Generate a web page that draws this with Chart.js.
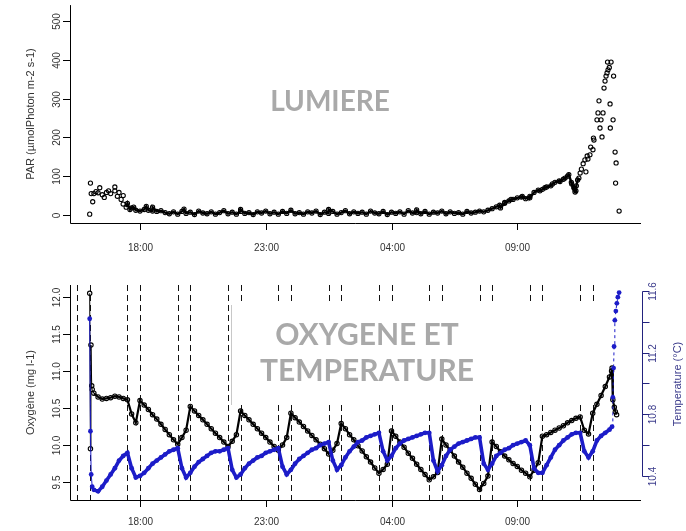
<!DOCTYPE html>
<html>
<head>
<meta charset="utf-8">
<script src="https://cdn.jsdelivr.net/npm/chart.js@4.4.1/dist/chart.umd.min.js"></script>
<style>
  html, body { margin: 0; padding: 0; background: #fff; }
  #wrap { position: relative; width: 686px; height: 531px; }
  canvas { position: absolute; left: 0; }
</style>
</head>
<body>
<div id="wrap">
  <canvas id="lumiere" width="686" height="265" style="top:0px"></canvas>
  <canvas id="oxygene" width="686" height="266" style="top:265px"></canvas>
</div>
<script>
'use strict';

// time grid: one reading every 10 min from 16:00, hours counted from midnight of day 1
const startHour = 16;
const stepHours = 1 / 6;

const timeTicks = [18, 23, 28, 33];
const timeLabels = ['18:00', '23:00', '04:00', '09:00'];
const parTicks = [0, 100, 200, 300, 400, 500];
const o2Ticks = [9.5, 10, 10.5, 11, 11.5, 12];
const o2Labels = ['9.5', '10.0', '10.5', '11.0', '11.5', '12.0'];
const tempTicks = [10.4, 10.6, 10.8, 11.0, 11.2, 11.4, 11.6];
const tempLabels = ['10.4', '', '10.8', '', '11.2', '', '11.6'];

// vertical dashed lines (half hour before / on each even hour)
const markLines = [15.5, 16, 17.5, 18, 19.5, 20, 21.5, 22, 23.5, 24, 25.5, 26,
                   27.5, 28, 29.5, 30, 31.5, 32, 33.5, 34, 35.5, 36];

// PAR (µmol photon m-2 s-1), 16:00 -> 11:20
const parGrid = [
  2, 55, 57, 52, 58, 55, 62, 58, 50, 30,
  18, 12, 10, 14, 12, 10, 9, 11, 6, 3,
  8, 2, 9, 4, 7, 1, 10, 5, 3, 8,
  2, 6, 11, 3, 7, 2, 9, 4, 6, 1,
  8, 5, 10, 3, 7, 2, 9, 4, 12, 3,
  6, 2, 8, 5, 10, 1, 7, 4, 9, 2,
  6, 11, 3, 8, 4, 7, 2, 10, 5, 3,
  9, 1, 7, 4, 8, 2, 11, 5, 6, 3,
  9, 2, 7, 5, 10, 3, 8, 4, 6, 2,
  9, 5, 7, 10, 8, 12, 16, 21, 18, 30,
  36, 40, 44, 46, 42, 48, 58, 64, 66, 72,
  75, 84, 88, 92, 100, 80, 62
];
// extra scattered PAR readings
const parExtraTimes = [
  16.03, 16.06, 16.12, 16.25, 16.4, 16.58, 16.75, 17.0, 17.1, 17.25,
  17.33, 17.45, 17.6, 17.75, 18.25, 18.5, 19.75, 22.0, 25.5, 29.0,
  32.3, 32.5, 32.75, 33.2, 33.5, 33.9, 34.1, 34.4, 34.7, 34.9,
  35.05, 35.15, 35.25, 35.3, 35.35, 35.4, 35.45, 35.5, 35.55, 35.62,
  35.69, 35.73, 35.78, 35.81, 35.89, 35.92, 36.01, 36.03, 36.05, 36.17,
  36.21, 36.25, 36.29, 36.33, 36.37, 36.41, 36.45, 36.49, 36.53, 36.57,
  36.59, 36.61, 36.66, 36.73, 36.69, 36.7, 36.81, 36.83, 36.89, 36.93,
  36.91, 37.05
];
const parExtraValues = [
  82, 55, 34, 60, 70, 45, 62, 72, 48, 40,
  28, 20, 14, 20, 22, 20, 15, 14, 14, 13,
  25, 32, 40, 48, 44, 62, 70, 80, 86, 95,
  104, 84, 70, 59, 75, 90, 95, 108, 118, 132,
  142, 111, 152, 144, 155, 175, 168, 198, 193, 245,
  263, 294, 224, 245, 201, 263, 327, 345, 358, 366,
  394, 374, 380, 394, 286, 224, 245, 358, 162, 134,
  82, 10
];

// Oxygen (mg l-1), 16:00 -> 12:40
const o2Grid = [
  12.05, 10.7, 10.65, 10.62, 10.63, 10.64, 10.66, 10.65, 10.63, 10.61,
  10.42, 10.3, 10.6, 10.54, 10.48, 10.41, 10.35, 10.28, 10.21, 10.14,
  10.07, 10.01, 10.1, 10.2, 10.52, 10.46, 10.4, 10.34, 10.28, 10.22,
  10.16, 10.1, 10.04, 9.98, 10.05, 10.14, 10.46, 10.4, 10.34, 10.28,
  10.22, 10.16, 10.1, 10.04, 9.98, 9.93, 10.0, 10.1, 10.43, 10.37,
  10.31, 10.25, 10.19, 10.13, 10.07, 10.01, 9.95, 9.88, 9.93, 10.02,
  10.29, 10.22, 10.14, 10.07, 9.99, 9.92, 9.84, 9.77, 9.69, 9.62,
  9.67, 9.74, 10.19, 10.12, 10.04, 9.97, 9.89, 9.82, 9.74, 9.67,
  9.6, 9.53, 9.57, 9.63, 10.08, 10.0, 9.93, 9.85, 9.77, 9.7,
  9.62, 9.55, 9.47, 9.4, 9.48, 9.58, 10.04, 9.98, 9.91, 9.85,
  9.8, 9.75, 9.71, 9.66, 9.62, 9.57, 9.66, 9.76, 10.12, 10.14,
  10.17, 10.2, 10.23, 10.26, 10.3, 10.33, 10.36, 10.38, 10.2, 10.15,
  10.43, 10.55, 10.67, 10.79, 10.92
];
const o2ExtraTimes = [16.03, 16.05, 16.08, 16.1, 36.75, 36.77, 36.8, 36.86, 36.9, 36.95];
const o2ExtraValues = [9.95, 11.35, 10.8, 10.75, 11.0, 11.04, 10.61, 10.51, 10.45, 10.41];

// Temperature (°C), 16:00 -> 12:40
const tempGrid = [
  11.42, 10.31, 10.3, 10.33, 10.37, 10.41, 10.45, 10.5, 10.53, 10.55,
  10.45, 10.39, 10.4, 10.42, 10.45, 10.48, 10.5, 10.52, 10.54, 10.56,
  10.57, 10.58, 10.45, 10.39, 10.42, 10.46, 10.49, 10.51, 10.53, 10.55,
  10.56, 10.56, 10.57, 10.58, 10.44, 10.39, 10.41, 10.45, 10.48, 10.5,
  10.52, 10.53, 10.55, 10.56, 10.57, 10.58, 10.46, 10.41, 10.44, 10.48,
  10.51, 10.53, 10.55, 10.57, 10.58, 10.6, 10.61, 10.62, 10.5, 10.44,
  10.47, 10.52, 10.56, 10.59, 10.62, 10.63, 10.65, 10.66, 10.67, 10.68,
  10.56, 10.5, 10.53, 10.58, 10.61, 10.63, 10.64, 10.65, 10.66, 10.67,
  10.68, 10.68, 10.5, 10.43, 10.47, 10.53, 10.57, 10.59, 10.61, 10.62,
  10.63, 10.64, 10.65, 10.65, 10.48, 10.44, 10.48, 10.53, 10.55, 10.57,
  10.58, 10.6, 10.61, 10.62, 10.63, 10.6, 10.45, 10.42, 10.42, 10.47,
  10.52, 10.57, 10.6, 10.63, 10.65, 10.67, 10.68, 10.68, 10.56, 10.52,
  10.56, 10.63, 10.66, 10.68, 10.7
];
const tempExtraTimes = [16.03, 16.06, 16.1, 36.77, 36.8, 36.83, 36.85, 36.88, 36.92, 36.96, 37.0, 37.05];
const tempExtraValues = [10.69, 10.41, 10.33, 10.72, 10.91, 11.1, 11.24, 11.41, 11.47, 11.52, 11.56, 11.59];

////////////////////////////////////////////////////
function gridPoints(values) {
  return values.map((v, i) => ({ x: startHour + i * stepHours, y: v }));
}
function extraPoints(times, values) {
  return times.map((t, i) => ({ x: t, y: values[i] }));
}
function merged(grid, times, values) {
  return gridPoints(grid).concat(extraPoints(times, values)).sort((a, b) => a.x - b.x);
}

const FONT = '"Liberation Sans", Arial, sans-serif';
const TXT = '#333';

function vText(ctx, text, x, y) {
  ctx.save();
  ctx.translate(x, y);
  ctx.rotate(-Math.PI / 2);
  ctx.fillText(text, 0, 0);
  ctx.restore();
}

// R-like axes: L box, ticks outside, labels parallel to axis
function drawAxes(chart, cfg) {
  const ctx = chart.ctx;
  const a = chart.chartArea;
  const xs = chart.scales.x;
  const ys = chart.scales.y;
  ctx.save();
  ctx.strokeStyle = '#000';
  ctx.lineWidth = 1;
  ctx.beginPath();
  ctx.moveTo(a.left + 0.5, a.top);
  ctx.lineTo(a.left + 0.5, a.bottom + 0.5);
  ctx.lineTo(a.right, a.bottom + 0.5);
  ctx.stroke();

  ctx.font = '10px ' + FONT;
  ctx.fillStyle = TXT;
  ctx.textAlign = 'center';
  ctx.textBaseline = 'middle';
  timeTicks.forEach((h, k) => {
    const px = Math.round(xs.getPixelForValue(h)) + 0.5;
    ctx.beginPath();
    ctx.moveTo(px, a.bottom);
    ctx.lineTo(px, a.bottom + 7);
    ctx.stroke();
    ctx.fillText(timeLabels[k], px, a.bottom + cfg.xLabelGap);
  });
  cfg.yTicks.forEach((v, k) => {
    const py = Math.round(ys.getPixelForValue(v)) + 0.5;
    ctx.beginPath();
    ctx.moveTo(a.left - 7, py);
    ctx.lineTo(a.left, py);
    ctx.stroke();
    vText(ctx, cfg.yLabels[k], 57, py);
  });
  ctx.font = '11px ' + FONT;
  vText(ctx, cfg.yTitle, 31, (a.top + a.bottom) / 2);

  if (cfg.right) {
    const rs = chart.scales.y2;
    const rx = a.right + 1.5;
    ctx.strokeStyle = '#23237e';
    ctx.fillStyle = '#3c3c8c';
    const top = Math.round(rs.getPixelForValue(tempTicks[tempTicks.length - 1])) + 0.5;
    const bot = Math.round(rs.getPixelForValue(tempTicks[0])) + 0.5;
    ctx.beginPath();
    ctx.moveTo(rx, top);
    ctx.lineTo(rx, bot);
    ctx.stroke();
    ctx.font = '10px ' + FONT;
    tempTicks.forEach((v, k) => {
      const py = Math.round(rs.getPixelForValue(v)) + 0.5;
      ctx.beginPath();
      ctx.moveTo(rx, py);
      ctx.lineTo(rx + 7, py);
      ctx.stroke();
      if (tempLabels[k]) vText(ctx, tempLabels[k], 653, py);
    });
    ctx.font = '11px ' + FONT;
    vText(ctx, 'Temperature (°C)', 678, (top + bot) / 2);
  }
  ctx.restore();
}

function bigText(ctx, lines, x, ys, size) {
  ctx.save();
  ctx.font = 'bold ' + size + 'px Lato, "Open Sans", sans-serif';
  ctx.fillStyle = '#a9a9a9';
  ctx.textAlign = 'center';
  ctx.textBaseline = 'middle';
  lines.forEach((t, i) => ctx.fillText(t, x, ys[i]));
  ctx.restore();
}

const xScale = { type: 'linear', min: 15.217, max: 37.92, display: false };
const bandFrom = 17.4, bandTo = 35.45;   // dense night band of PAR readings

/////////// TOP: LUMIERE ///////////
new Chart(document.getElementById('lumiere').getContext('2d'), {
  type: 'scatter',
  data: {
    datasets: [{
      label: 'PAR',
      data: merged(parGrid, parExtraTimes, parExtraValues),
      showLine: true,
      borderColor: '#000',
      borderWidth: 2.4,
      segment: {
        borderColor: c => (c.p0.parsed.x >= bandFrom && c.p1.parsed.x <= bandTo) ? '#000' : 'rgba(0,0,0,0)'
      },
      pointRadius: 2.1,
      pointBorderWidth: 1.1,
      pointBorderColor: '#000',
      pointBackgroundColor: 'rgba(0,0,0,0)'
    }]
  },
  options: {
    responsive: false,
    animation: false,
    events: [],
    layout: { padding: { left: 70, right: 45, top: 5, bottom: 42 } },
    plugins: { legend: { display: false }, tooltip: { enabled: false } },
    scales: {
      x: xScale,
      y: { type: 'linear', min: -20.8, max: 540.8, display: false }
    }
  },
  plugins: [{
    id: 'rAxesTop',
    beforeDatasetsDraw(chart) {
      bigText(chart.ctx, ['LUMIERE'], 330, [102], 28);
    },
    afterDraw(chart) {
      drawAxes(chart, {
        yTicks: parTicks,
        yLabels: parTicks.map(String),
        yTitle: 'PAR (µmolPhoton m-2 s-1)',
        xLabelGap: 25
      });
    }
  }]
});

/////////// BOTTOM: OXYGENE ET TEMPERATURE ///////////
const tailFrom = 36.76;
new Chart(document.getElementById('oxygene').getContext('2d'), {
  type: 'scatter',
  data: {
    datasets: [{
      label: 'Temperature',
      data: merged(tempGrid, tempExtraTimes, tempExtraValues),
      yAxisID: 'y2',
      showLine: true,
      borderColor: '#1c1cc8',
      borderWidth: 3.6,
      pointRadius: 2.4,
      pointBorderWidth: 0,
      pointBackgroundColor: '#1c1cc8',
      segment: {
        borderWidth: c => (c.p0.parsed.x < 16.12 || c.p0.parsed.x >= tailFrom) ? 1 : 3.6,
        borderDash: c => c.p0.parsed.x >= tailFrom ? [3, 3] : undefined
      }
    }, {
      label: 'Oxygene',
      data: merged(o2Grid, o2ExtraTimes, o2ExtraValues),
      yAxisID: 'y',
      showLine: true,
      borderColor: '#000',
      borderWidth: 2.2,
      segment: {
        borderWidth: c => c.p0.parsed.x < 16.12 ? 1 : 2.2
      },
      pointRadius: 2.2,
      pointBorderWidth: 1.1,
      pointBorderColor: '#000',
      pointBackgroundColor: 'rgba(0,0,0,0)'
    }]
  },
  options: {
    responsive: false,
    animation: false,
    events: [],
    layout: { padding: { left: 70, right: 45, top: 20, bottom: 31 } },
    plugins: { legend: { display: false }, tooltip: { enabled: false } },
    scales: {
      x: xScale,
      y: { type: 'linear', min: 9.257, max: 12.162, display: false },
      y2: { type: 'linear', position: 'right', min: 10.244, max: 11.639, display: false }
    }
  },
  plugins: [{
    id: 'rAxesBottom',
    beforeDatasetsDraw(chart) {
      const ctx = chart.ctx;
      const a = chart.chartArea;
      const xs = chart.scales.x;
      ctx.save();
      ctx.strokeStyle = '#111';
      ctx.lineWidth = 1;
      ctx.setLineDash([6, 4]);
      markLines.forEach(h => {
        const px = Math.round(xs.getPixelForValue(h)) + 0.5;
        ctx.beginPath();
        ctx.moveTo(px, a.top);
        ctx.lineTo(px, a.bottom);
        ctx.stroke();
      });
      ctx.setLineDash([]);
      // white panel behind the caption
      ctx.fillStyle = '#fff';
      ctx.fillRect(232, 40, 370, 100);
      ctx.strokeStyle = '#c8c8c8';
      ctx.beginPath();
      ctx.moveTo(231.5, 40);
      ctx.lineTo(231.5, 140);
      ctx.stroke();
      ctx.restore();
      bigText(ctx, ['OXYGENE ET', 'TEMPERATURE'], 367, [70, 106], 30);
    },
    afterDraw(chart) {
      drawAxes(chart, {
        yTicks: o2Ticks,
        yLabels: o2Labels,
        yTitle: 'Oxygène (mg l-1)',
        xLabelGap: 22,
        right: true
      });
    }
  }]
});
</script>
</body>
</html>
